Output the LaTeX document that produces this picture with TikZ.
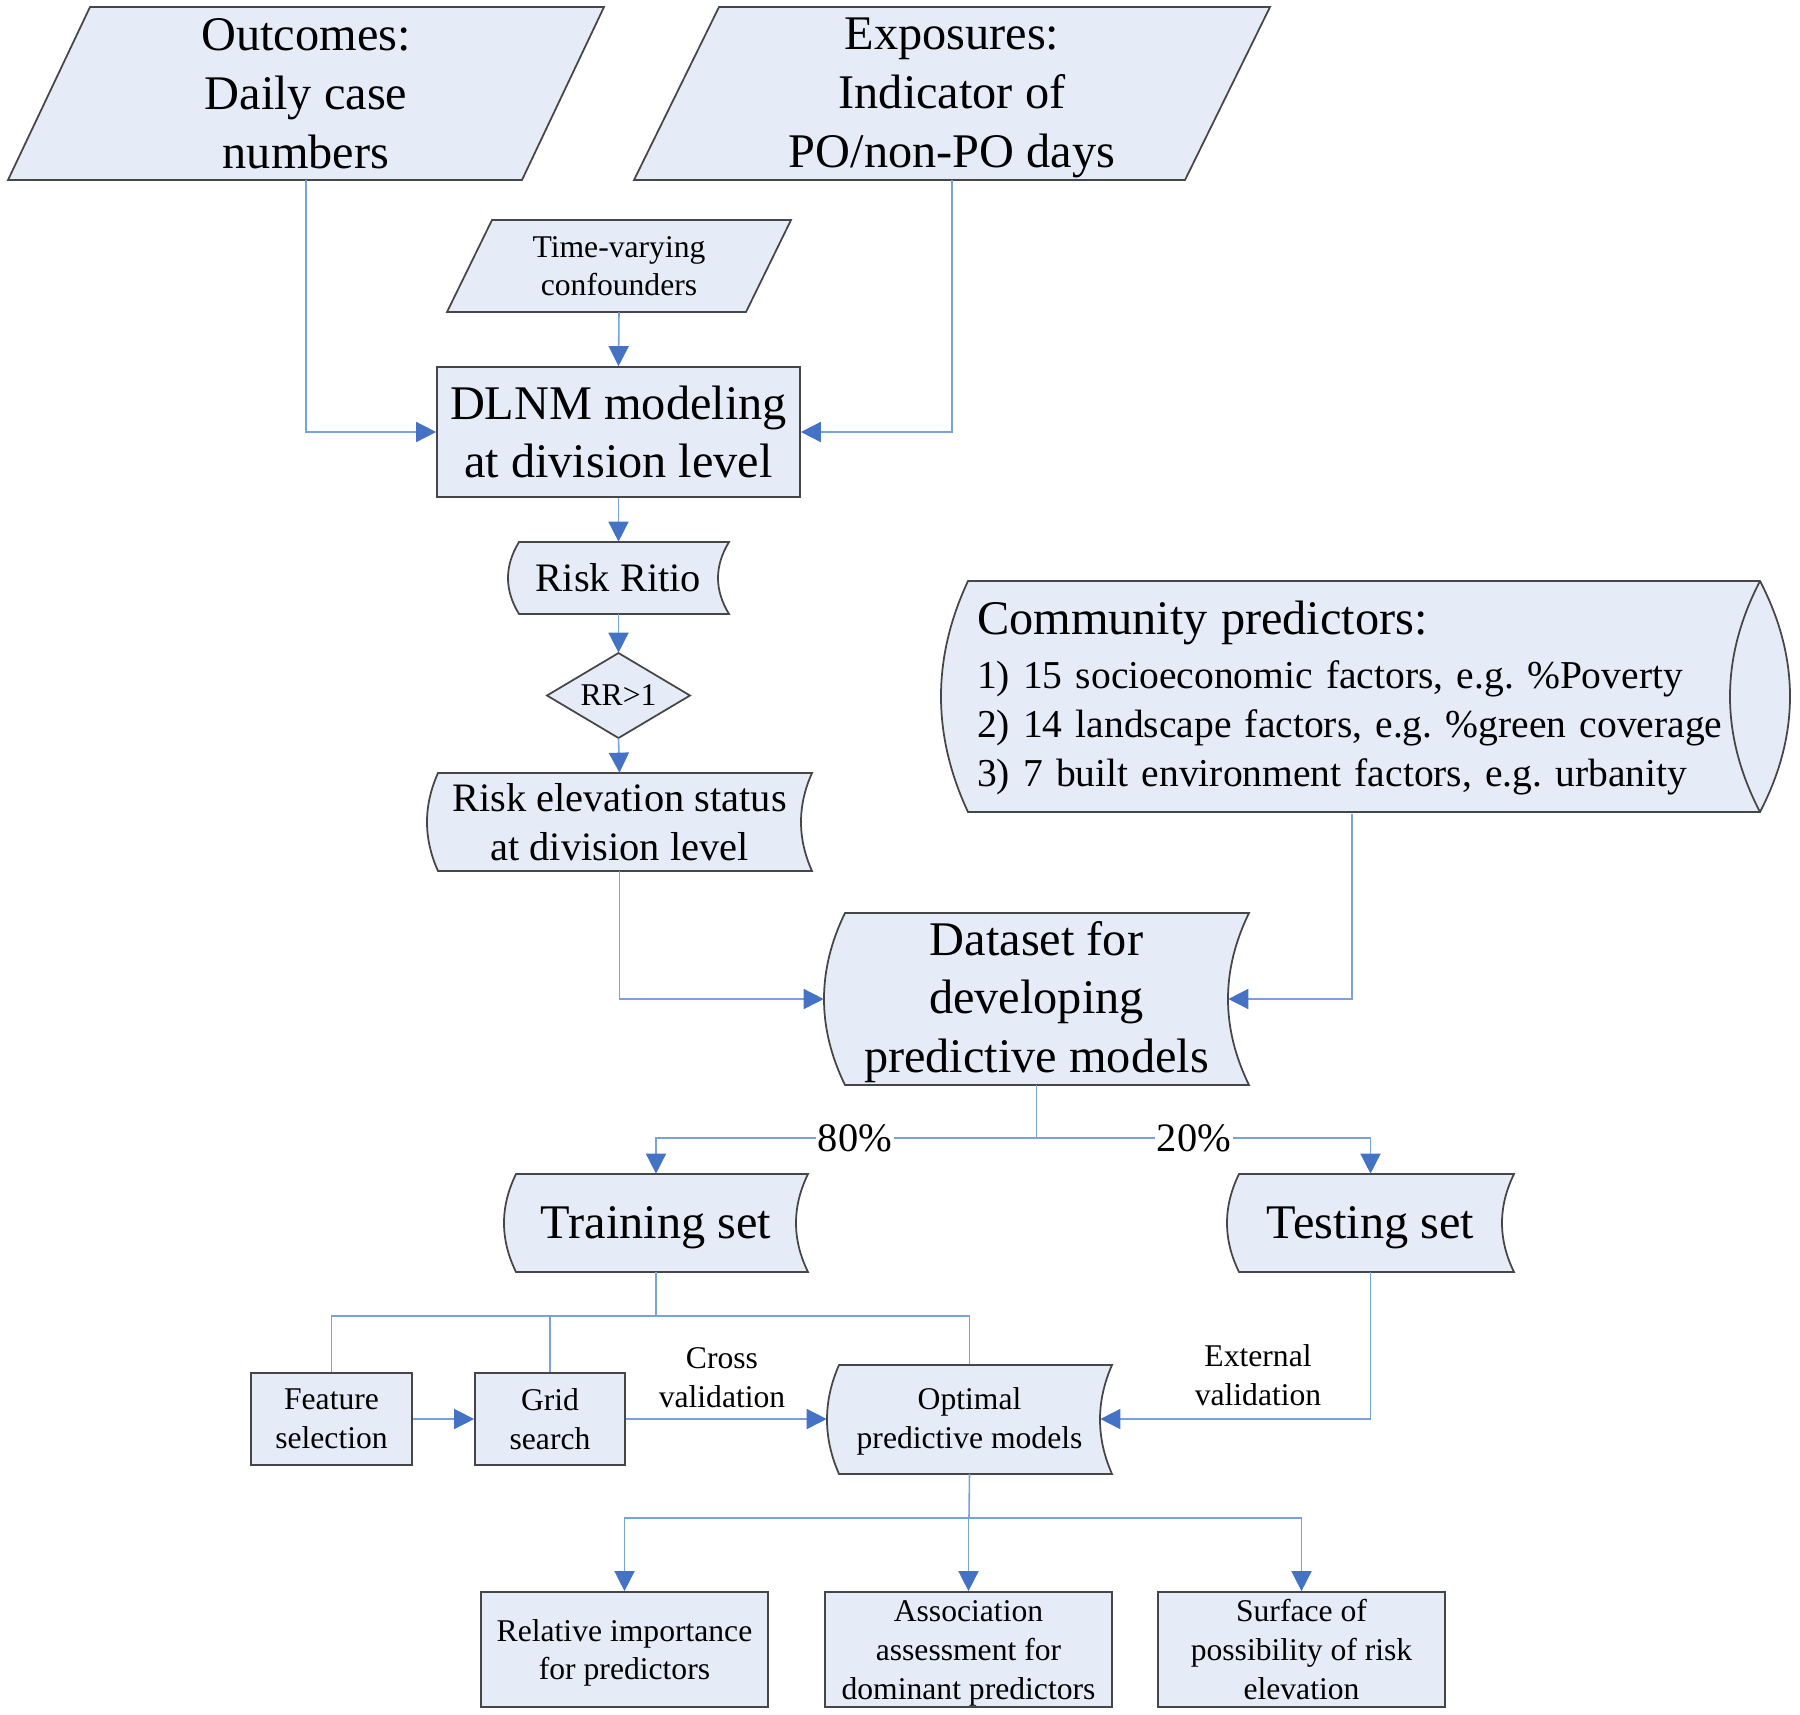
\documentclass[tikz,border=0pt]{standalone}
\usepackage{fontspec}
\setmainfont{Liberation Serif}
\usetikzlibrary{arrows.meta}
\frenchspacing
\definecolor{fillc}{RGB}{230,236,247}
\definecolor{bordc}{RGB}{70,70,70}
\definecolor{linec}{RGB}{120,162,222}
\definecolor{arrowc}{RGB}{68,114,196}
\newcommand{\fL}{\fontsize{27.5}{33.5}\selectfont}
\newcommand{\fM}{\fontsize{23}{28}\selectfont}
\newcommand{\fS}{\fontsize{18}{22}\selectfont}
% stored-data outline: x1 y1 x2 y2 bulge
\newcommand{\sdshape}[5]{%
  \draw[shp] ({#1+#5},#2) -- (#3,#2)
    .. controls ({#3-4*#5/3},{#2+(#4-#2)/3}) and ({#3-4*#5/3},{#2+2*(#4-#2)/3}) .. (#3,#4)
    -- ({#1+#5},#4)
    .. controls ({#1-#5/3},{#2+2*(#4-#2)/3}) and ({#1-#5/3},{#2+(#4-#2)/3}) .. cycle;}
% parallelogram: x top-left, x top-right, x bottom-left, x bottom-right, y top, y bottom
\newcommand{\paragram}[6]{%
  \draw[shp] (#1,#5) -- (#2,#5) -- (#4,#6) -- (#3,#6) -- cycle;}
\tikzset{
  shp/.style={draw=bordc, fill=fillc, line width=1pt},
  lbl/.style={inner sep=0pt, align=center, text=black},
  rectbox/.style={lbl, draw=bordc, fill=fillc, line width=1pt},
  conn/.style={draw=linec, line width=0.9pt},
  arr/.style={conn, -{Triangle[length=0.4cm,width=0.4cm,color=arrowc]}},
  pct/.style={fill=white, inner sep=1pt, font=\fM}
}
\begin{document}
\begin{tikzpicture}[x=0.02cm, y=-0.02cm]
\useasboundingbox (0,0) rectangle (1800,1715);

% ---------- shapes ----------
\paragram{90}{604}{8}{522}{7}{180}
\paragram{719}{1270}{634}{1185}{7}{180}
\paragram{492}{791}{447}{746}{220}{312}
\sdshape{508}{542}{729}{614}{11}
\draw[shp] (547,695.5) -- (618.5,653) -- (690,695.5) -- (618.5,738) -- cycle;
\sdshape{427}{773}{812}{871}{11}
% community predictors (cylinder lying down)
\draw[shp] (968,581) -- (1760,581)
  .. controls (1800,658) and (1800,735) .. (1760,812)
  -- (968,812)
  .. controls (932,735) and (932,658) .. cycle;
\draw[draw=bordc, line width=1pt] (1760,581) .. controls (1720,658) and (1720,735) .. (1760,812);
\sdshape{824}{913}{1249}{1085}{21}
\sdshape{504}{1174}{808}{1272}{12}
\sdshape{1227}{1174}{1514}{1272}{12}
\sdshape{827}{1365}{1112}{1474}{12}

% ---------- nodes ----------
\node[lbl, font=\fL, minimum height=3.46cm] (out) at (306,93.5) {Outcomes:\\Daily case\\numbers};
\node[lbl, font=\fL, minimum height=3.28cm] (exp) at (952,98) {Exposures:\\Indicator of\\PO/non-PO days};
\node[lbl, font=\fontsize{18}{21.6}\selectfont, minimum height=1.84cm] (tv) at (619,266) {Time-varying\\confounders};
\node[rectbox, font=\fontsize{27.5}{32.5}\selectfont, minimum width=7.26cm, minimum height=2.6cm] (dlnm) at (618.5,432) {DLNM modeling\\at division level};
\node[lbl, font=\fM, minimum width=4.42cm, minimum height=1.44cm] (rr) at (618.5,578) {Risk Ritio};
\node[lbl, font=\fS, minimum height=1.7cm] (dia) at (618.5,695.5) {RR{\textgreater}1};
\node[lbl, font=\fM, minimum width=7.7cm, minimum height=1.96cm] (res) at (619.5,822) {Risk elevation status\\at division level};
\node[lbl, font=\fontsize{22.5}{28}\selectfont, align=left, text width=15cm, minimum height=4.62cm] (comm) at (1352,698)
  {\mbox{\fontsize{27.5}{28}\selectfont Community predictors:}\\[3pt]
   \mbox{1) 15 socioeconomic factors, e.g. \%Poverty}\\
   \mbox{2) 14 landscape factors, e.g. \%green coverage}\\
   \mbox{3) 7 built environment factors, e.g. urbanity}};
\node[lbl, font=\fL, minimum width=8.5cm, minimum height=3.44cm] (ds) at (1036.5,999) {\rule{0pt}{22.8pt}Dataset for\\developing\\predictive models};
\node[lbl, font=\fL, minimum width=6.08cm, minimum height=1.96cm] (train) at (656,1223) {\rule{0pt}{24pt}Training set};
\node[lbl, font=\fL, minimum width=5.74cm, minimum height=1.96cm] (test) at (1370.5,1223) {\rule{0pt}{24pt}Testing set};
\node[rectbox, font=\fontsize{18}{22.2}\selectfont, minimum width=3.22cm, minimum height=1.84cm] (feat) at (331.5,1419) {Feature\\selection};
\node[rectbox, font=\fontsize{18}{22.2}\selectfont, minimum width=3.0cm, minimum height=1.84cm] (grid) at (550,1419) {Grid\\search};
\node[lbl, font=\fontsize{18}{22.2}\selectfont, minimum width=5.7cm, minimum height=2.18cm] (opt) at (969.5,1419) {\rule{0pt}{15pt}Optimal\\predictive models};
\node[rectbox, font=\fontsize{18}{22}\selectfont, minimum width=5.74cm, minimum height=2.3cm] (ri) at (624.5,1649.5) {\rule{0pt}{16.3pt}Relative importance\\for predictors};
\node[rectbox, font=\fontsize{18}{22}\selectfont, minimum width=5.74cm, minimum height=2.3cm] (aa) at (968.5,1649.5) {\rule{0pt}{16.3pt}Association\\assessment for\\dominant predictors};
\node[rectbox, font=\fontsize{18}{22}\selectfont, minimum width=5.74cm, minimum height=2.3cm] (sp) at (1301.5,1649.5) {Surface of\\possibility of risk\\elevation};

% ---------- connectors ----------
\draw[arr] (out.south) |- (dlnm.west);
\draw[arr] (exp.south) |- (dlnm.east);
\draw[arr] (tv.south) -- (dlnm.north);
\draw[arr] (dlnm.south) -- (rr.north);
\draw[arr] (rr.south) -- (dia.north);
\draw[arr] (dia.south) -- (res.north);
\draw[arr] (res.south) |- (ds.west);
\draw[arr] (comm.south) |- ([xshift=-0.42cm]ds.east);

\coordinate (dsj) at (1036.5,1138);
\draw[conn] (ds.south) -- (dsj);
\draw[arr] (dsj) -| (train.north);
\draw[arr] (dsj) -| (test.north);
\node[pct] (p80) at (855,1138) {80\%};
\node[pct] (p20) at (1194,1138) {20\%};

\coordinate (tj) at (656,1316);
\draw[conn] (train.south) -- (tj);
\draw[conn] (tj) -| (feat.north);
\draw[conn] (tj) -| (grid.north);
\draw[conn] (tj) -| (opt.north);
\draw[arr] (feat.east) -- (grid.west);
\draw[arr] (grid.east) -- (opt.west);
\node[lbl, font=\fontsize{18}{22.2}\selectfont] (cv) at (722,1378) {Cross\\validation};
\draw[arr] (test.south) |- ([xshift=-0.24cm]opt.east);
\node[lbl, font=\fontsize{18}{22.2}\selectfont] (ev) at (1258,1375) {External\\validation};

\coordinate (oj) at (969,1518);
\draw[conn] (opt.south) -- (oj);
\draw[arr] (oj) -| (ri.north);
\draw[arr] (oj) -| (aa.north);
\draw[arr] (oj) -| (sp.north);
\end{tikzpicture}
\end{document}
